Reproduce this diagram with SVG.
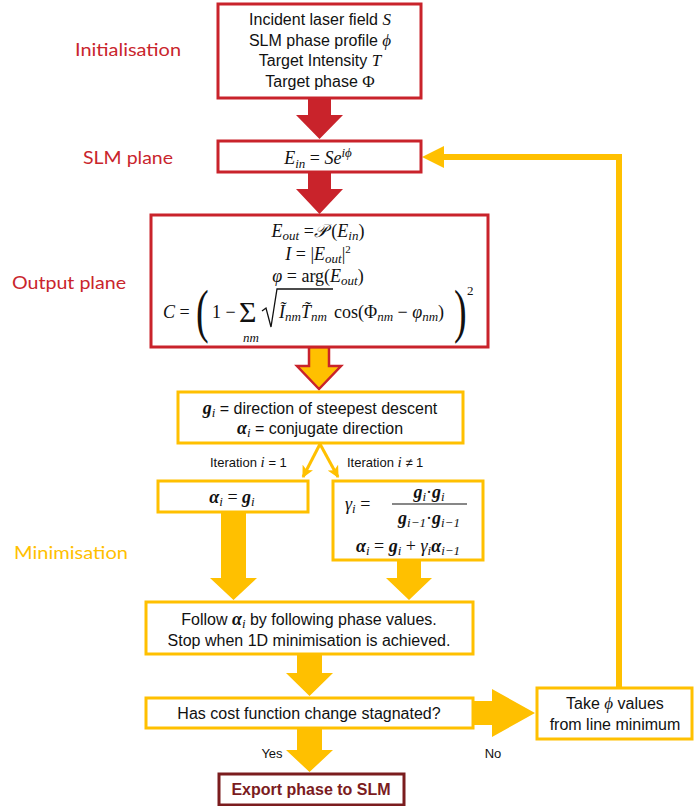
<svg xmlns="http://www.w3.org/2000/svg" width="694" height="806" viewBox="0 0 694 806">
<style>
.rbox{fill:#fff;stroke:#C9232B;stroke-width:3}
.ybox{fill:#fff;stroke:#FFC000;stroke-width:3}
.dbox{fill:#fff;stroke:#7B1C1E;stroke-width:3}
.rarr{fill:#C9232B}
.yarr{fill:#FFC000}
.t{font-family:"Liberation Sans",Arial,sans-serif;font-size:16px;fill:#111}
.s{font-family:"Liberation Sans",Arial,sans-serif;font-size:13px;fill:#111}
.m{font-family:"Liberation Serif","DejaVu Serif",serif;font-size:18px;fill:#111}
.i{font-style:italic}
.b{font-weight:bold}
.sub{font-size:13px}
.side{font-family:Lato,"Open Sans",sans-serif;font-size:18px}
</style>
<defs>
<marker id="ah" viewBox="0 0 10 10" refX="9" refY="5" markerWidth="4" markerHeight="4" orient="auto" markerUnits="strokeWidth">
<path d="M0,0 L10,5 L0,10 L2.5,5 z" fill="#FFC000"/>
</marker>
</defs>

<g id="labels">
<text class="side" x="128" y="56" text-anchor="middle" fill="#C9252C" textLength="106" lengthAdjust="spacingAndGlyphs">Initialisation</text>
<text class="side" x="128" y="164" text-anchor="middle" fill="#C9252C" textLength="90" lengthAdjust="spacingAndGlyphs">SLM plane</text>
<text class="side" x="69" y="289" text-anchor="middle" fill="#C9252C" textLength="114" lengthAdjust="spacingAndGlyphs">Output plane</text>
<text class="side" x="71" y="559" text-anchor="middle" fill="#FFC000" textLength="114" lengthAdjust="spacingAndGlyphs">Minimisation</text>
</g>

<g id="connectors">
<polygon class="rarr" points="308,98 331,98 331,115 343,115 319.5,139 296,115 308,115"/>
<polygon class="rarr" points="308,172 331,172 331,189 343,189 319.5,214 296,189 308,189"/>
<polygon points="309,347 329,347 329,366 341,366 319,389 297,366 309,366" fill="#FFC000" stroke="#C9232B" stroke-width="2.5" stroke-linejoin="miter"/>
<line x1="320" y1="444" x2="303" y2="477" stroke="#FFC000" stroke-width="3" marker-end="url(#ah)"/>
<line x1="320" y1="444" x2="338" y2="477" stroke="#FFC000" stroke-width="3" marker-end="url(#ah)"/>
<polygon class="yarr" points="221,512 246,512 246,578 257,578 233.5,600 210,578 221,578"/>
<polygon class="yarr" points="397,560 421,560 421,578 432,578 409,600 386,578 397,578"/>
<polygon class="yarr" points="297,654 322,654 322,673 333,673 309.5,696 286,673 297,673"/>
<polygon class="yarr" points="297,728 322,728 322,750 333,750 309.5,772 286,750 297,750"/>
<polygon class="yarr" points="473,701 492,701 492,689 535,713 492,737 492,725 473,725"/>
<polyline points="619,688 619,157 442,157" fill="none" stroke="#FFC000" stroke-width="6" stroke-linejoin="miter"/>
<polygon class="yarr" points="422,157 444,146 444,168"/>
<text class="s" x="272" y="758" text-anchor="middle">Yes</text>
<text class="s" x="493" y="758" text-anchor="middle">No</text>
<text class="s" x="210" y="467">Iteration <tspan class="m i" style="font-size:15px">i</tspan> = 1</text>
<text class="s" x="347" y="467">Iteration <tspan class="m i" style="font-size:15px">i</tspan> ≠ 1</text>
</g>

<g id="init">
<rect class="rbox" x="218" y="4" width="203" height="94"/>
<text class="t" x="320" y="25" text-anchor="middle">Incident laser field <tspan class="m i" style="font-size:17px">S</tspan></text>
<text class="t" x="320" y="46" text-anchor="middle">SLM phase profile <tspan class="m i" style="font-size:17px">ϕ</tspan></text>
<text class="t" x="320" y="66" text-anchor="middle">Target Intensity <tspan class="m i" style="font-size:17px">T</tspan></text>
<text class="t" x="320" y="87" text-anchor="middle">Target phase <tspan class="m" style="font-size:17px">Φ</tspan></text>
</g>

<g id="slm">
<rect class="rbox" x="218" y="141" width="203" height="31"/>
<text class="m" x="318" y="164" text-anchor="middle"><tspan class="i">E</tspan><tspan class="i sub" dy="4">in</tspan><tspan dy="-4"> = </tspan><tspan class="i">Se</tspan><tspan class="i sub" dy="-7">iϕ</tspan></text>
</g>

<g id="output">
<rect class="rbox" x="151" y="215" width="337" height="132"/>
<text class="m" x="318" y="237" text-anchor="middle"><tspan class="i">E</tspan><tspan class="i sub" dy="3">out</tspan><tspan dy="-3"> =</tspan><tspan class="i" style="font-family:'DejaVu Serif',serif">𝒫</tspan> (<tspan class="i">E</tspan><tspan class="i sub" dy="3">in</tspan><tspan dy="-3">)</tspan></text>
<text class="m" x="318" y="260" text-anchor="middle"><tspan class="i">I</tspan> =  |<tspan class="i">E</tspan><tspan class="i sub" dy="3">out</tspan><tspan dy="-3">|</tspan><tspan class="sub" style="font-size:11px" dy="-7">2</tspan></text>
<text class="m" x="318" y="282" text-anchor="middle"><tspan class="i">φ</tspan> = arg(<tspan class="i">E</tspan><tspan class="i sub" dy="3">out</tspan><tspan dy="-3">)</tspan></text>
<text class="m" x="163" y="318"><tspan class="i">C</tspan> =</text>
<text class="m" transform="translate(196,331) scale(1,1.55)" style="font-size:38px">(</text>
<text class="m" x="212" y="318">1 −</text>
<text class="m" x="239" y="322" style="font-size:30px">Σ</text>
<text class="m i" x="251" y="342" style="font-size:13px" text-anchor="middle">nm</text>
<path d="M262,311 L266,308 L271,327 L277,289 L333,289" fill="none" stroke="#111" stroke-width="1.3"/>
<text class="m" x="279" y="318"><tspan class="i">Ĩ</tspan><tspan class="i sub" dy="3">nm</tspan><tspan class="i" dy="-3">T̃</tspan><tspan class="i sub" dy="3">nm</tspan></text>
<text class="m" x="334" y="318">cos(Φ<tspan class="i sub" dy="3">nm</tspan><tspan dy="-3"> − </tspan><tspan class="i">φ</tspan><tspan class="i sub" dy="3">nm</tspan><tspan dy="-3">)</tspan></text>
<text class="m" transform="translate(454,331) scale(1,1.55)" style="font-size:38px">)</text>
<text class="m" x="467" y="295" style="font-size:13px">2</text>
</g>

<g id="gradient">
<rect class="ybox" x="178" y="392" width="285" height="51"/>
<text class="t" x="320" y="414" text-anchor="middle"><tspan class="m i b">g</tspan><tspan class="m i sub" dy="3">i</tspan><tspan dy="-3"> = direction of steepest descent</tspan></text>
<text class="t" x="320" y="434" text-anchor="middle"><tspan class="m i b">α</tspan><tspan class="m i sub" dy="3">i</tspan><tspan dy="-3"> = conjugate direction</tspan></text>
</g>

<g id="first">
<rect class="ybox" x="158" y="481" width="150" height="31"/>
<text class="m" x="232" y="503" text-anchor="middle"><tspan class="i b">α</tspan><tspan class="i sub" dy="3">i</tspan><tspan dy="-3"> = </tspan><tspan class="i b">g</tspan><tspan class="i sub" dy="3">i</tspan></text>
</g>

<g id="conj">
<rect class="ybox" x="333" y="481" width="150" height="79"/>
<text class="m" x="345" y="510"><tspan class="i">γ</tspan><tspan class="i sub" dy="3">i</tspan><tspan dy="-3">  = </tspan></text>
<text class="m" x="429" y="498" text-anchor="middle"><tspan class="i b">g</tspan><tspan class="i sub" dy="3">i</tspan><tspan dy="-3">·</tspan><tspan class="i b">g</tspan><tspan class="i sub" dy="3">i</tspan></text>
<line x1="392" y1="504" x2="467" y2="504" stroke="#111" stroke-width="1.2"/>
<text class="m" x="429" y="524" text-anchor="middle"><tspan class="i b">g</tspan><tspan class="i sub" dy="3">i−1</tspan><tspan dy="-3">·</tspan><tspan class="i b">g</tspan><tspan class="i sub" dy="3">i−1</tspan></text>
<text class="m" x="408" y="552" text-anchor="middle"><tspan class="i b">α</tspan><tspan class="i sub" dy="3">i</tspan><tspan dy="-3"> = </tspan><tspan class="i b">g</tspan><tspan class="i sub" dy="3">i</tspan><tspan dy="-3"> + </tspan><tspan class="i">γ</tspan><tspan class="i sub" dy="3">i</tspan><tspan class="i b" dy="-3">α</tspan><tspan class="i sub" dy="3">i−1</tspan></text>
</g>

<g id="follow">
<rect class="ybox" x="146" y="602" width="327" height="52"/>
<text class="t" x="309" y="625" text-anchor="middle">Follow <tspan class="m i b">α</tspan><tspan class="m i sub" dy="3">i</tspan><tspan dy="-3"> by following phase values.</tspan></text>
<text class="t" x="309" y="646" text-anchor="middle">Stop when 1D minimisation is achieved.</text>
</g>

<g id="stagnated">
<rect class="ybox" x="146" y="698" width="327" height="30"/>
<text class="t" x="309" y="719" text-anchor="middle">Has cost function change stagnated?</text>
</g>

<g id="export">
<rect class="dbox" x="219" y="774" width="185" height="31"/>
<text class="t b" x="311" y="795" text-anchor="middle" style="fill:#7B1C1E">Export phase to SLM</text>
</g>

<g id="take">
<rect class="ybox" x="537" y="688" width="155" height="51"/>
<text class="t" x="615" y="709" text-anchor="middle">Take <tspan class="m i" style="font-size:17px">ϕ</tspan> values</text>
<text class="t" x="615" y="730" text-anchor="middle">from line minimum</text>
</g>
</svg>
